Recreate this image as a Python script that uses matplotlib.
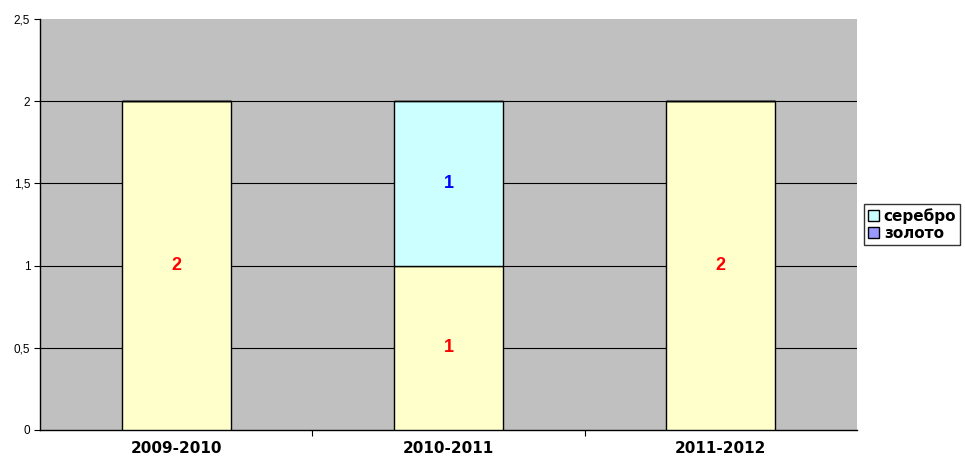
import matplotlib.pyplot as plt
import numpy as np

plt.rcParams['font.family'] = ['Liberation Sans', 'DejaVu Sans']

seasons = ["2009-2010", "2010-2011", "2011-2012"]
bronze = [2, 1, 2]
silver = [0, 1, 0]
gold = [0, 0, 0]
y_ticks = [0, 0.5, 1, 1.5, 2, 2.5]
y_tick_labels = ["0", "0,5", "1", "1,5", "2", "2,5"]

fig = plt.figure(figsize=(9.65, 4.57), dpi=100)
ax = fig.add_axes([40 / 965, 27 / 457, 817 / 965, 411 / 457])
ax.set_facecolor('#C0C0C0')

x = np.arange(len(seasons))
w = 0.4
b1 = ax.bar(x, bronze, w, color='#FFFFCC', edgecolor='black', linewidth=1, zorder=3)
b2 = ax.bar(x, silver, w, bottom=bronze, color='#CCFFFF', edgecolor='black',
            linewidth=1, zorder=3, label='серебро')
b3 = ax.bar(x, gold, w, bottom=np.array(bronze) + np.array(silver), color='#9999FF',
            edgecolor='black', linewidth=1, zorder=3, label='золото')

# подписи значений
for i in range(len(seasons)):
    if bronze[i] > 0:
        ax.text(x[i], bronze[i] / 2, str(bronze[i]), color='#FF0000', fontsize=13,
                fontweight='bold', ha='center', va='center', zorder=4)
    if silver[i] > 0:
        ax.text(x[i], bronze[i] + silver[i] / 2, str(silver[i]), color='#0000FF',
                fontsize=13, fontweight='bold', ha='center', va='center', zorder=4)

for yv in y_ticks[1:-1]:
    ax.axhline(yv, color='black', linewidth=0.8, zorder=2)

ax.set_xlim(-0.5, 2.5)
ax.set_ylim(0, 2.5)
ax.set_yticks(y_ticks)
ax.set_yticklabels(y_tick_labels, fontsize=8.5)
ax.set_xticks([0.5, 1.5], minor=False)
ax.set_xticklabels([])
ax.set_xticks(x, minor=True)
ax.set_xticklabels(seasons, minor=True, fontsize=11, fontweight='bold', family='DejaVu Sans')
ax.tick_params(axis='x', which='minor', length=0, pad=8)
ax.tick_params(axis='x', which='major', length=4, direction='out')
ax.tick_params(axis='y', length=4, direction='out', pad=3)
for s in ['top', 'right']:
    ax.spines[s].set_visible(False)
ax.spines['left'].set_linewidth(1)
ax.spines['bottom'].set_linewidth(1)

leg = fig.legend(handles=[b2, b3], loc='upper left', bbox_to_anchor=(864 / 965, 1 - 204 / 457),
                 frameon=True, fancybox=False, edgecolor='black',
                 prop={'weight': 'bold', 'size': 11, 'family': 'DejaVu Sans'},
                 handlelength=0.75, handleheight=0.75,
                 handletextpad=0.3, borderpad=0.25, labelspacing=0.15, borderaxespad=0)
leg.get_frame().set_linewidth(1)

plt.savefig('out.png', dpi=100)
